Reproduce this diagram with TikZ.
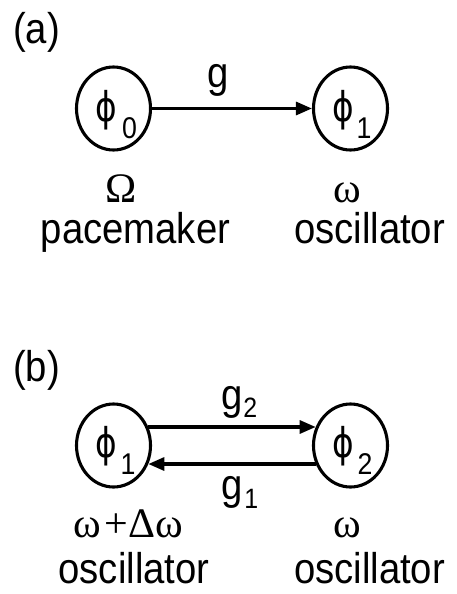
\documentclass[tikz,border=0pt]{standalone}
\usepackage{fontspec}
\setmainfont{Liberation Sans}[FakeStretch=0.89]
\newfontfamily\grk{Liberation Serif}
\newfontfamily\phifam{DejaVu Sans}[FakeStretch=0.8]
\usetikzlibrary{shapes.geometric,arrows.meta}
\tikzset{
  osc/.style={draw, ellipse, line width=3.1pt, minimum width=74pt, minimum height=83pt, inner sep=0pt},
  big/.style={inner sep=0pt, font=\fontsize{43}{50}\selectfont},
  phis/.style={inner sep=0pt, font=\phifam\fontsize{41}{46}\selectfont},
  subs/.style={inner sep=0pt, font=\fontsize{30}{34}\selectfont},
  grkst/.style={inner sep=0pt, font=\grk\fontsize{42}{48}\selectfont},
  conn/.style={line width=3.1pt, -{Triangle[length=16pt,width=13pt]}}
}
\begin{document}
\begin{tikzpicture}[x=1pt,y=-1pt]
\useasboundingbox (0,0) rectangle (456,594);
% (a)
\node[big, anchor=base west] (la) at (13,44) {(a)};
\node[osc] (p0) at (113.5,108.5) {};
\node[osc] (p1) at (350.5,108.5) {};
\node[phis] (p0phi) at (106,110) {ϕ};
\node[subs] (p0sub) at (129.5,128) {0};
\node[phis] (p1phi) at (343,110) {ϕ};
\node[subs] (p1sub) at (364,128) {1};
\draw[conn] (p0) -- (p1);
\node[big, anchor=base] (g) at (218,88) {g};
\node[grkst, anchor=base] (Om) at (121,202) {Ω};
\node[grkst, anchor=base] (om1) at (347,202) {ω};
\node[big, anchor=base] (pm) at (135.5,243) {pacemaker};
\node[big, anchor=base] (os1) at (369.5,243) {oscillator};
% (b)
\node[big, anchor=base west] (lb) at (13,381) {(b)};
\node[osc] (b1) at (113.5,445.5) {};
\node[osc] (b2) at (350.5,445.5) {};
\node[phis] (b1phi) at (106,446) {ϕ};
\node[subs] (b1sub) at (128,464) {1};
\node[phis] (b2phi) at (343,446) {ϕ};
\node[subs] (b2sub) at (365,464) {2};
\draw[conn] (b1.28) -- (b2.152);
\draw[conn] (b2.-152) -- (b1.-28);
\node[big, anchor=base west] (g2) at (221,409) {g\kern1pt\raisebox{-8pt}{\fontsize{28}{32}\selectfont 2}};
\node[big, anchor=base west] (g1) at (221,499) {g\kern2pt\raisebox{-9pt}{\fontsize{28}{32}\selectfont 1}};
\node[grkst, anchor=base] (omd) at (128.5,537) {ω\kern3pt+\kern1ptΔω};
\node[grkst, anchor=base] (om2) at (347,537) {ω};
\node[big, anchor=base] (os2) at (134,583) {oscillator};
\node[big, anchor=base] (os3) at (369.5,583) {oscillator};
\end{tikzpicture}
\end{document}
